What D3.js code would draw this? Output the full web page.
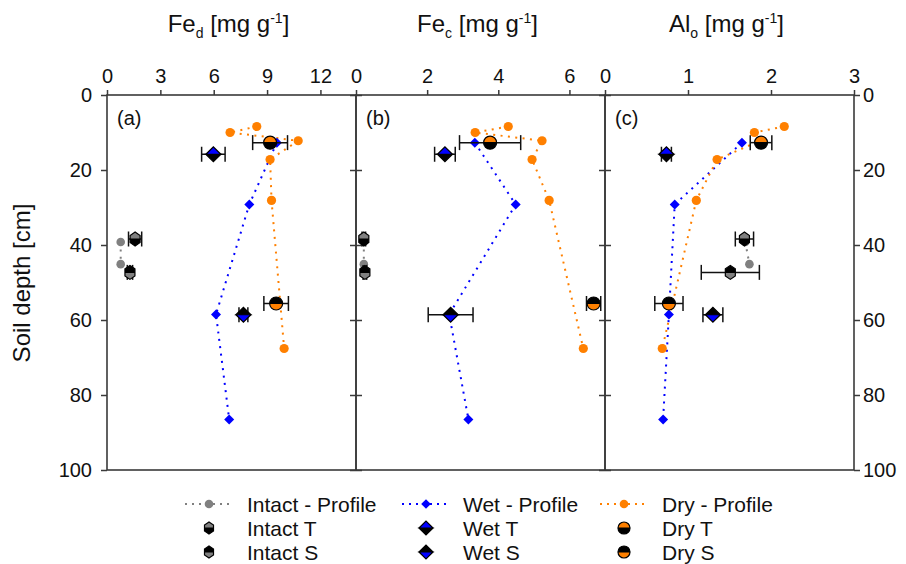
<!DOCTYPE html>
<html>
<head>
<meta charset="utf-8">
<script src="https://cdn.jsdelivr.net/npm/d3@7"></script>
<style>
  body { margin: 0; background: #fff; }
  text { font-family: Arial, "Liberation Sans", sans-serif; fill: #111; }
</style>
</head>
<body>
<svg width="906" height="564"></svg>
<script>
// profile depths (cm)
var depthIntact = [39.2, 45.1];
var depthWet = [12.7, 29.2, 58.5, 86.5];
var depthDry = [8.4, 10.0, 12.2, 17.2, 28.1, 67.6];

// profile values per panel
var fedIntact = [0.77, 0.77];
var fedWet = [9.55, 8.0, 6.13, 6.87];
var fedDry = [8.42, 6.92, 10.75, 9.17, 9.25, 9.96];

var fecIntact = [0.22, 0.22];
var fecWet = [3.34, 4.49, 2.62, 3.16];
var fecDry = [4.28, 3.35, 5.23, 4.95, 5.43, 6.39];

var aloIntact = [1.69, 1.74];
var aloWet = [1.65, 0.84, 0.77, 0.70];
var aloDry = [2.16, 1.80, 1.87, 1.35, 1.10, 0.69];

// treatments: Intact T, Intact S, Wet T, Wet S, Dry T, Dry S
var treatNames = ['Intact T', 'Intact S', 'Wet T', 'Wet S', 'Dry T', 'Dry S'];
var treatDepth = [38.4, 47.3, 15.8, 58.6, 12.7, 55.6];
var fedTreat = [1.58, 1.29, 5.98, 7.67, 9.17, 9.51];
var fedErr = [0.37, 0.15, 0.66, 0.25, 0.98, 0.69];
var fecTreat = [0.22, 0.25, 2.50, 2.66, 3.77, 6.68];
var fecErr = [0.05, 0.05, 0.29, 0.63, 0.86, 0.20];
var aloTreat = [1.68, 1.51, 0.74, 1.30, 1.88, 0.77];
var aloErr = [0.11, 0.35, 0.06, 0.12, 0.13, 0.17];

var xDomains = [[0, 14], [0, 7], [0, 3]];
var xTicks = [[0, 3, 6, 9, 12], [0, 2, 4, 6], [0, 1, 2, 3]];
var yTicks = [0, 20, 40, 60, 80, 100];
var panelLabels = ['(a)', '(b)', '(c)'];
var titleMain = ['Fe', 'Fe', 'Al'];
var titleSub = ['d', 'c', 'o'];

var GRAY = '#808080', BLUE = '#0000ff', ORANGE = '#ff8000', AXIS = '#3a3a3a';
var FONT = 'Arial, "Liberation Sans", sans-serif';

var svg = d3.select('svg');
var plotLeft = 107, plotTop = 95, panelW = 249, plotBottom = 470;

var y = d3.scaleLinear().domain([0, 100]).range([plotTop, plotBottom]);

var panels = [
  { intact: fedIntact, wet: fedWet, dry: fedDry, treat: fedTreat, err: fedErr },
  { intact: fecIntact, wet: fecWet, dry: fecDry, treat: fecTreat, err: fecErr },
  { intact: aloIntact, wet: aloWet, dry: aloDry, treat: aloTreat, err: aloErr }
];

// marker shapes (half paths)
function hexHalves(hw, hh) {
  var hs = hh / 2;
  return [
    'M' + (-hw) + ',0L' + (-hw) + ',' + (-hs) + 'L0,' + (-hh) + 'L' + hw + ',' + (-hs) + 'L' + hw + ',0Z',
    'M' + (-hw) + ',0L' + (-hw) + ',' + hs + 'L0,' + hh + 'L' + hw + ',' + hs + 'L' + hw + ',0Z'
  ];
}
function diamondHalves(h) {
  return ['M' + (-h) + ',0L0,' + (-h) + 'L' + h + ',0Z', 'M' + (-h) + ',0L0,' + h + 'L' + h + ',0Z'];
}
function circleHalves(r) {
  return ['M' + (-r) + ',0A' + r + ',' + r + ' 0 0 1 ' + r + ',0Z', 'M' + (-r) + ',0A' + r + ',' + r + ' 0 0 0 ' + r + ',0Z'];
}
function diamondPath(h) {
  return 'M0,' + (-h) + 'L' + h + ',0L0,' + h + 'L' + (-h) + ',0Z';
}

function treatMarker(g, i, small) {
  var halves, colour;
  if (i < 2) { halves = small ? hexHalves(4.5, 6) : hexHalves(5, 7); colour = GRAY; }
  else if (i < 4) { halves = diamondHalves(small ? 7 : 7.5); colour = BLUE; }
  else { halves = circleHalves(small ? 6 : 6.5); colour = ORANGE; }
  var isT = i % 2 == 0;
  g.append('path').attr('d', halves[0]).attr('fill', isT ? colour : '#000');
  g.append('path').attr('d', halves[1]).attr('fill', isT ? '#000' : colour);
  g.append('path').attr('d', halves[0] + halves[1])
    .attr('fill', 'none').attr('stroke', '#000').attr('stroke-width', 1.2);
}

function profileLine(g, x, vals, depths, colour) {
  var pts = vals.map(function(v, i) { return [v, depths[i]]; });
  g.append('path')
    .datum(pts)
    .attr('fill', 'none')
    .attr('stroke', colour)
    .attr('stroke-width', 2)
    .attr('stroke-dasharray', '2,5.4')
    .attr('d', d3.line().x(function(d) { return x(d[0]); }).y(function(d) { return y(d[1]); }));
}

function styleAxis(a) {
  a.select('.domain').remove();
  a.selectAll('line').attr('stroke', AXIS).attr('stroke-width', 1.5);
  a.selectAll('text').attr('font-size', 20).attr('fill', '#111').attr('font-family', FONT);
}

var noLabel = function() { return ''; };

panels.forEach(function(p, k) {
  var x0 = plotLeft + k * panelW;
  var x = d3.scaleLinear().domain(xDomains[k]).range([x0, x0 + panelW]);
  var g = svg.append('g');

  // top axis
  g.append('g').attr('transform', 'translate(0,' + plotTop + ')')
    .call(d3.axisTop(x).tickValues(xTicks[k]).tickSize(5).tickPadding(7).tickFormat(d3.format('d')))
    .call(styleAxis);

  // left / right ticks
  g.append('g').attr('transform', 'translate(' + x0 + ',0)')
    .call(d3.axisLeft(y).tickValues(yTicks).tickSize(6).tickPadding(9)
      .tickFormat(k == 0 ? d3.format('d') : noLabel))
    .call(styleAxis);

  g.append('g').attr('transform', 'translate(' + (x0 + panelW) + ',0)')
    .call(d3.axisRight(y).tickValues(yTicks).tickSize(6).tickPadding(3)
      .tickFormat(k == 2 ? d3.format('d') : noLabel))
    .call(styleAxis);

  // frame
  g.append('rect')
    .attr('x', x0).attr('y', plotTop)
    .attr('width', panelW).attr('height', plotBottom - plotTop)
    .attr('fill', 'none').attr('stroke', AXIS).attr('stroke-width', 1.6);

  // title
  var t = g.append('text')
    .attr('x', x0 + panelW / 2 - 3).attr('y', 32)
    .attr('text-anchor', 'middle').attr('font-size', 24);
  t.append('tspan').text(titleMain[k]);
  t.append('tspan').attr('font-size', 14).attr('dy', 6).text(titleSub[k]);
  t.append('tspan').attr('dy', -6).text(' [mg g');
  t.append('tspan').attr('font-size', 14).attr('dy', -9).text('-1');
  t.append('tspan').attr('dy', 9).text(']');

  g.append('text')
    .attr('x', x0 + 10).attr('y', 125)
    .attr('font-size', 20).text(panelLabels[k]);

  // profiles
  profileLine(g, x, p.intact, depthIntact, GRAY);
  profileLine(g, x, p.wet, depthWet, BLUE);
  profileLine(g, x, p.dry, depthDry, ORANGE);

  g.selectAll('.pi').data(p.intact).enter().append('circle')
    .attr('cx', function(d) { return x(d); })
    .attr('cy', function(d, i) { return y(depthIntact[i]); })
    .attr('r', 4.3).attr('fill', GRAY);

  g.selectAll('.pd').data(p.dry).enter().append('circle')
    .attr('cx', function(d) { return x(d); })
    .attr('cy', function(d, i) { return y(depthDry[i]); })
    .attr('r', 4.6).attr('fill', ORANGE);

  g.selectAll('.pw').data(p.wet).enter().append('path')
    .attr('d', diamondPath(5))
    .attr('transform', function(d, i) { return 'translate(' + x(d) + ',' + y(depthWet[i]) + ')'; })
    .attr('fill', BLUE);

  // treatments with error bars
  p.treat.forEach(function(v, i) {
    var cy = y(treatDepth[i]);
    var xa = x(v - p.err[i]), xb = x(v + p.err[i]);
    var eb = g.append('g').attr('stroke', '#111').attr('stroke-width', 1.5);
    eb.append('line').attr('x1', xa).attr('x2', xb).attr('y1', cy).attr('y2', cy);
    eb.append('line').attr('x1', xa).attr('x2', xa).attr('y1', cy - 7.5).attr('y2', cy + 7.5);
    eb.append('line').attr('x1', xb).attr('x2', xb).attr('y1', cy - 7.5).attr('y2', cy + 7.5);
    treatMarker(g.append('g').attr('transform', 'translate(' + x(v) + ',' + cy + ')'), i, false);
  });
});

// y axis title
svg.append('text')
  .attr('transform', 'translate(30,283) rotate(-90)')
  .attr('text-anchor', 'middle').attr('font-size', 24)
  .text('Soil depth [cm]');

// legend
var legCols = [185, 402, 600];
var legText = [247, 463, 662];
var legRows = [504, 528, 552];
var legProfile = ['Intact - Profile', 'Wet - Profile', 'Dry - Profile'];
var legColours = [GRAY, BLUE, ORANGE];
var leg = svg.append('g');

legProfile.forEach(function(name, c) {
  var x1 = legCols[c], xm = x1 + 24, cy = legRows[0];
  leg.append('line')
    .attr('x1', x1).attr('x2', x1 + 47).attr('y1', cy).attr('y2', cy)
    .attr('stroke', legColours[c]).attr('stroke-width', 2).attr('stroke-dasharray', '2,5');
  if (c == 1) {
    leg.append('path').attr('d', diamondPath(4.8))
      .attr('transform', 'translate(' + xm + ',' + cy + ')').attr('fill', BLUE);
  } else {
    leg.append('circle').attr('cx', xm).attr('cy', cy).attr('r', 4.3).attr('fill', legColours[c]);
  }
  leg.append('text').attr('x', legText[c]).attr('y', cy).attr('dy', '0.36em')
    .attr('font-size', 21).text(name);

  [0, 1].forEach(function(r) {
    var idx = c * 2 + r, ry = legRows[r + 1];
    treatMarker(leg.append('g').attr('transform', 'translate(' + xm + ',' + ry + ')'), idx, true);
    leg.append('text').attr('x', legText[c]).attr('y', ry).attr('dy', '0.36em')
      .attr('font-size', 21).text(treatNames[idx]);
  });
});
</script>
</body>
</html>
